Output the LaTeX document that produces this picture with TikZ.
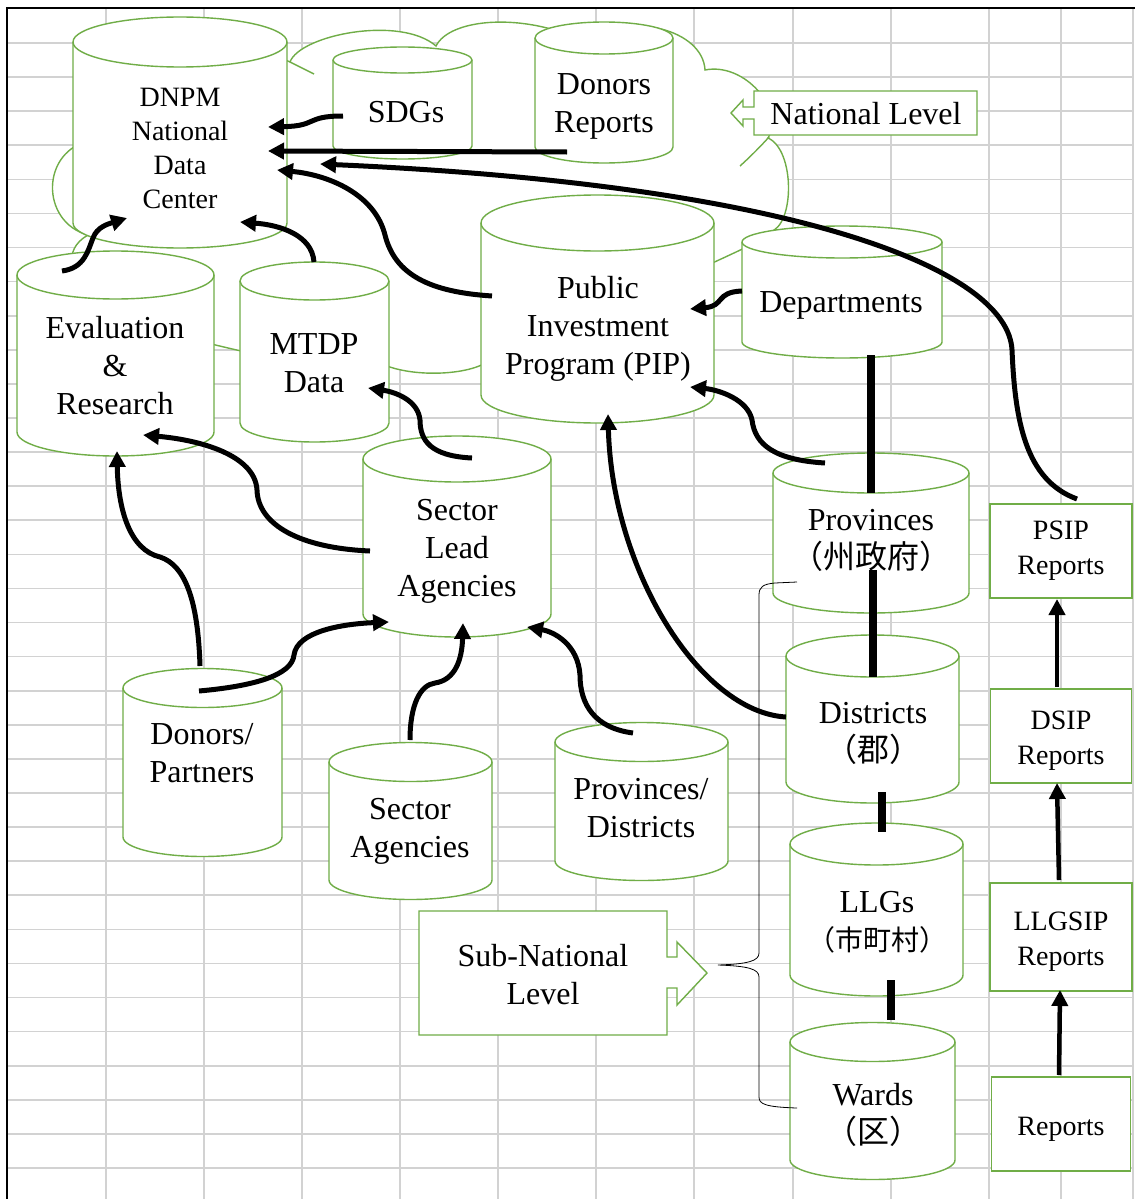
\documentclass[tikz,border=0pt]{standalone}
\usepackage{fontspec}
\setmainfont{Liberation Serif}
\newfontfamily\cjk{Noto Sans CJK JP}
\usetikzlibrary{arrows.meta,calc}
\definecolor{leaf}{RGB}{112,173,71}
\definecolor{cellline}{RGB}{210,210,210}
\newcommand\sizeA{\fontsize{32}{38}\selectfont}
\newcommand\sizeB{\fontsize{28}{34}\selectfont}
\newcommand\sizeC{\fontsize{28}{35}\selectfont}
% line strut, weighted towards the top so that text sits a little lower
\newcommand\ts{\vrule width 0pt height \dimexpr.7\baselineskip+4pt\relax depth \dimexpr.3\baselineskip-4pt\relax}
% drum: centre x, x radius, y of top rim, y of bottom rim, rim y radius
\newcommand\drum[5]{%
  \path[drumfill] (#1-#2,#3) -- (#1-#2,#4)
     arc[start angle=180,end angle=0,x radius=#2,y radius=#5]
     -- (#1+#2,#3)
     arc[start angle=0,end angle=-180,x radius=#2,y radius=#5] -- cycle;
  \draw[drumrim] (#1+#2,#3) arc[start angle=0,end angle=180,x radius=#2,y radius=#5];
}
\begin{document}
\begin{tikzpicture}[x=1pt,y=-1pt,
  gridline/.style={draw=cellline,line width=1.6pt},
  drumfill/.style={fill=white,draw=leaf,line width=1.4pt},
  drumrim/.style={draw=leaf,line width=1.4pt},
  cloudedge/.style={draw=leaf,line width=1.4pt},
  calloutline/.style={draw=leaf,fill=white,line width=1.4pt},
  wordbig/.style={align=center,font=\sizeA,inner sep=0pt},
  worddnpm/.style={align=center,font=\sizeB,inner sep=0pt},
  wordreport/.style={align=center,font=\sizeC,inner sep=0pt},
  reportbox/.style={draw=leaf,fill=white,line width=1.4pt,inner sep=0pt,
     align=center,font=\sizeC},
  linkarrow/.style={line width=5pt,-{Triangle[length=16pt,width=16pt]}},
  linkbar/.style={line width=8pt},
  bracket/.style={line width=0.8pt}]

\useasboundingbox (0,0) rectangle (1135,1199);
\fill[white] (0,0) rectangle (1135,1199);

% spreadsheet cells
\foreach \gx in {106,204,302,400,498,596,694,793,891,989,1061,1133}
  \draw[gridline] (\gx,8) -- (\gx,1199);
\foreach \k in {0,...,33}
  \draw[gridline] (7,{43+34.09*\k}) -- (1133,{43+34.09*\k});
\draw[line width=2.5pt] (7,1199) -- (7,8) -- (1135,8);

% national level cloud
\path[cloudedge,fill=white] (88,235)
  .. controls (40,222) and (40,150) .. (92,140)
  .. controls (85,60) and (200,20) .. (290,62)
  .. controls (300,35) and (400,15) .. (436,46)
  .. controls (450,18) and (525,12) .. (585,42)
  .. controls (630,10) and (703,30) .. (705,70)
  .. controls (745,62) and (785,110) .. (768,138)
  .. controls (795,150) and (795,225) .. (770,232)
  .. controls (760,245) and (700,265) .. (640,300)
  .. controls (630,380) and (520,390) .. (490,360)
  .. controls (470,376) and (410,378) .. (380,363)
  .. controls (340,375) and (260,356) .. (195,340)
  .. controls (120,350) and (35,265) .. (88,235) -- cycle;
\draw[cloudedge] (290,62) .. controls (298,66) and (306,70) .. (314,74);
\draw[cloudedge] (769,137) .. controls (760,147) and (750,157) .. (740,166);

% data stores
\drum{180}{107}{42}{223}{25}
\drum{402.5}{69.5}{60}{146}{13}
\drum{604}{69}{38}{147}{16}
\drum{597.5}{116.5}{223}{395}{28}
\drum{842}{100}{242}{342}{16}
\drum{115.5}{98.5}{275}{432}{24}
\drum{314.5}{74.5}{281}{423}{19}
\drum{457}{94}{459}{614}{23}
\drum{871}{98}{473}{593}{20}
\drum{872.5}{86.5}{656}{782}{21}
\drum{876.5}{86.5}{844}{975}{21}
\drum{872.5}{82.5}{1042}{1160}{19.5}
\drum{202.5}{79.5}{688}{837}{19.5}
\drum{410.5}{81.5}{762}{880}{19.5}
\drum{641.5}{86.5}{742}{861}{19.5}

% level callouts
\path[calloutline] (754,91) -- (977,91) -- (977,135) -- (754,135) -- (754,119)
  -- (743,119) -- (743,126) -- (731,113) -- (743,100) -- (743,107) -- (754,107) -- cycle;
\path[calloutline] (419,911) -- (667,911) -- (667,957) -- (677,957) -- (677,942)
  -- (707,973) -- (677,1005) -- (677,988) -- (667,988) -- (667,1035) -- (419,1035) -- cycle;

% labels
\node[worddnpm] (dnpm) at (180,147) {\ts DNPM\\\ts National\\\ts Data\\\ts Center};
\node[wordbig] (sdg) at (406,111) {\ts SDGs};
\node[wordbig] (donrep) at (604,102) {\ts Donors\\\ts Reports};
\node[wordbig] (natl) at (866,113) {\ts National Level};
\node[wordbig] (pip) at (598,325) {\ts Public\\\ts Investment\\\ts Program (PIP)};
\node[wordbig] (dept) at (841,301) {\ts Departments};
\node[wordbig] (evalr) at (115,365) {\ts Evaluation\\\ts \&\\\ts Research};
\node[wordbig] (mtdp) at (314,362) {\ts MTDP\\\ts Data};
\node[wordbig] (slead) at (457,547) {\ts Sector\\\ts Lead\\\ts Agencies};
\node[wordbig] (prov) at (871,538) {\ts Provinces\\\ts{\cjk （州政府）}};
\node[wordbig] (dist) at (873,731) {\ts Districts\\\ts{\cjk （郡）}};
\node[wordbig] (llg) at (877,920) {\ts LLGs\\\ts{\cjk\fontsize{28}{38}\selectfont （市町村）}};
\node[wordbig] (ward) at (873,1113) {\ts Wards\\\ts{\cjk （区）}};
\node[wordbig] (donp) at (202,752) {\ts Donors/\\\ts Partners};
\node[wordbig] (secag) at (410,827) {\ts Sector\\\ts Agencies};
\node[wordbig] (provd) at (641,807) {\ts Provinces/\\\ts Districts};
\node[wordbig] (subnat) at (543,974) {\ts Sub-National\\\ts Level};
\node[reportbox,minimum width=142pt,minimum height=94pt] (psip) at (1061,551) {};
\node[wordreport] (psiptext) at (1061,546) {\ts PSIP\\\ts Reports};
\node[reportbox,minimum width=141pt,minimum height=94pt] (dsip) at (1061,736) {\ts DSIP\\\ts Reports};
\node[reportbox,minimum width=142pt,minimum height=108pt] (llgsip) at (1061,937) {\ts LLGSIP\\\ts Reports};
\node[reportbox,minimum width=139pt,minimum height=94pt] (rep) at (1061,1124) {\ts Reports};

% flows into the data center
\draw[linkarrow] ($(sdg)+(-63,5)$) .. controls (305,116) and (318,126) .. ($(dnpm)+(88,-20)$);
\draw[linkarrow] ($(donrep)+(-37,50)$) -- ($(dnpm)+(88,4)$);
\draw[linkarrow] ($(psip)+(16,-52)$) .. controls (1025,480) and (1015,420) .. (1012,350)
  .. controls (1008,270) and (800,185) .. ($(dnpm)+(140,17)$);
\draw[linkarrow] ($(pip)+(-106,-29)$) .. controls (430,292) and (395,275) .. (385,235)
  .. controls (375,195) and (330,175) .. ($(dnpm)+(97,23)$);
\draw[linkarrow] ($(evalr)+(-53,-94)$) .. controls (85,268) and (88,250) .. (93,238)
  .. controls (97,227) and (108,224) .. ($(dnpm)+(-53,71)$);
\draw[linkarrow] ($(mtdp)+(0,-100)$) .. controls (312,235) and (280,225) .. ($(dnpm)+(60,75)$);

% flows into the PIP
\draw[linkarrow] ($(dept)+(-99,-10)$) .. controls (715,292) and (725,306) .. ($(pip)+(92,-16)$);
\draw[linkarrow] ($(prov)+(-46,-75)$) .. controls (775,460) and (755,445) .. (752,420)
  .. controls (748,400) and (720,390) .. ($(pip)+(92,62)$);
\draw[linkarrow] ($(dist)+(-87,-14)$) .. controls (700,712) and (612,570) .. ($(pip)+(10,89)$);

% government tiers
\draw[linkbar] ($(dept)+(30,54)$) -- ($(prov)+(0,-45)$);
\draw[linkbar] ($(prov)+(2,32)$) -- ($(dist)+(0,-54)$);
\draw[linkbar] ($(dist)+(9,61)$) -- ($(llg)+(5,-88)$);
\draw[linkbar] ($(llg)+(14,60)$) -- ($(ward)+(18,-93)$);

% reporting chain
\draw[linkarrow,line width=4.5pt] ($(rep)+(-2,-49)$) -- ($(llgsip)+(-1,53)$);
\draw[linkarrow,line width=4.5pt] ($(llgsip)+(-2,-57)$) -- ($(dsip)+(-4,47)$);
\draw[linkarrow,line width=4.5pt] ($(dsip)+(-4,-49)$) -- ($(psip)+(-4,48)$);

% sector flows
\draw[linkarrow] ($(slead)+(15,-89)$) .. controls (430,456) and (420,440) .. (420,420)
  .. controls (418,400) and (395,392) .. ($(mtdp)+(54,26)$);
\draw[linkarrow] ($(slead)+(-87,4)$) .. controls (300,548) and (258,525) .. (257,490)
  .. controls (255,455) and (200,440) .. ($(evalr)+(28,70)$);
\draw[linkarrow] ($(donp)+(-2,-86)$) .. controls (198,600) and (185,565) .. (160,557)
  .. controls (130,550) and (118,510) .. ($(evalr)+(2,86)$);
\draw[linkarrow] ($(donp)+(-3,-61)$) .. controls (255,686) and (292,675) .. (294,655)
  .. controls (297,632) and (340,624) .. ($(slead)+(-68,75)$);
\draw[linkarrow] ($(secag)+(0,-87)$) .. controls (410,705) and (420,685) .. (435,683)
  .. controls (455,680) and (462,660) .. ($(slead)+(6,76)$);
\draw[linkarrow] ($(provd)+(-8,-74)$) .. controls (595,728) and (580,705) .. (580,675)
  .. controls (578,645) and (555,632) .. ($(slead)+(70,80)$);

% sub-national brace
\draw[bracket] (797,582) -- (775,583) .. controls (763,584) and (759,587) .. (759,595)
  -- (759,953) .. controls (759,961) and (748,964) .. (718,965)
  .. controls (748,966) and (759,969) .. (759,977)
  -- (759,1097) .. controls (759,1104) and (765,1107) .. (797,1108);
\end{tikzpicture}
\end{document}
